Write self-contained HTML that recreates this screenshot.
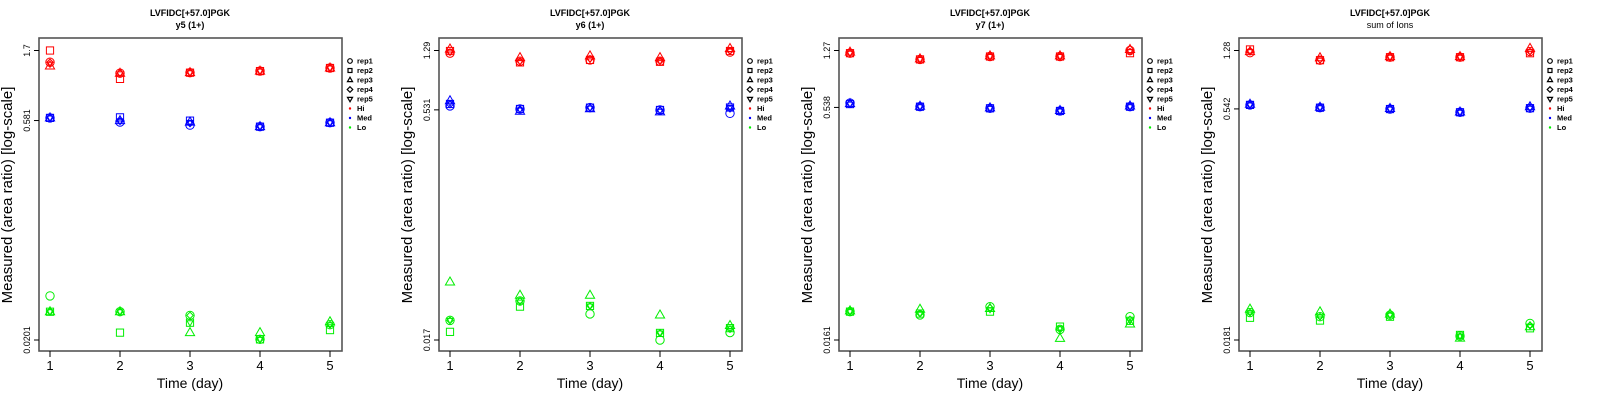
<!DOCTYPE html>
<html><head><meta charset="utf-8"><style>
html,body{margin:0;padding:0;background:#fff;}
svg{display:block;font-family:"Liberation Sans",sans-serif;}
</style></head><body>
<svg id="chart" width="1600" height="400" viewBox="0 0 1600 400" xmlns="http://www.w3.org/2000/svg"></svg>
<script>
const days = [1, 2, 3, 4, 5];
const repNames = ["rep1", "rep2", "rep3", "rep4", "rep5"];
const groupNames = ["Hi", "Med", "Lo"];
const subtitles = ["y5 (1+)", "y6 (1+)", "y7 (1+)", "sum of Ions"];
const yTickLabels = [["1.7","0.581","0.0201"],["1.29","0.531","0.017"],["1.27","0.538","0.0161"],["1.28","0.542","0.0181"]];
const yTickValues = [[1.7,0.581,0.0201],[1.29,0.531,0.017],[1.27,0.538,0.0161],[1.28,0.542,0.0181]];

// panel 1 (y5) : [rep][day]
const p1Hi = [[1.42,1.20,1.21,1.24,1.30],[1.70,1.10,1.21,1.24,1.30],[1.34,1.20,1.21,1.24,1.30],[1.42,1.20,1.21,1.24,1.30],[1.38,1.19,1.21,1.24,1.30]];
const p1Med = [[0.605,0.568,0.542,0.529,0.562],[0.605,0.610,0.580,0.529,0.562],[0.605,0.580,0.567,0.529,0.562],[0.605,0.575,0.555,0.529,0.562],[0.605,0.575,0.565,0.529,0.562]];
const p1Lo = [[0.0395,0.031,0.0293,0.0203,0.0254],[0.031,0.0225,0.0262,0.0203,0.0234],[0.031,0.031,0.0225,0.0225,0.0266],[0.031,0.031,0.0293,0.0203,0.0254],[0.031,0.031,0.0262,0.0203,0.0254]];
// panel 2 (y6)
const p2Hi = [[1.24,1.10,1.12,1.10,1.26],[1.28,1.08,1.12,1.09,1.28],[1.32,1.16,1.19,1.16,1.33],[1.26,1.10,1.14,1.10,1.28],[1.26,1.09,1.13,1.10,1.28]];
const p2Med = [[0.563,0.538,0.549,0.530,0.504],[0.580,0.538,0.549,0.530,0.550],[0.609,0.520,0.540,0.515,0.563],[0.575,0.538,0.549,0.530,0.540],[0.590,0.530,0.545,0.520,0.550]];
const p2Lo = [[0.0228,0.0305,0.0251,0.0170,0.0190],[0.0192,0.0280,0.0283,0.0189,0.0203],[0.0405,0.0332,0.0332,0.0247,0.0211],[0.0228,0.0305,0.0283,0.0189,0.0200],[0.0228,0.0300,0.0283,0.0189,0.0203]];
// panel 3 (y7)
const p3Hi = [[1.22,1.11,1.16,1.16,1.27],[1.22,1.11,1.16,1.16,1.22],[1.24,1.12,1.17,1.17,1.29],[1.22,1.11,1.16,1.16,1.25],[1.22,1.11,1.16,1.16,1.25]];
const p3Med = [[0.575,0.544,0.531,0.510,0.544],[0.566,0.544,0.531,0.510,0.544],[0.570,0.548,0.534,0.514,0.550],[0.570,0.544,0.531,0.510,0.544],[0.566,0.544,0.531,0.510,0.544]];
const p3Lo = [[0.0247,0.0235,0.0266,0.0189,0.0229],[0.0247,0.0240,0.0247,0.0197,0.0215],[0.0250,0.0256,0.0259,0.0165,0.0205],[0.0247,0.0240,0.0262,0.0189,0.0220],[0.0247,0.0240,0.0255,0.0192,0.0215]];
// panel 4 (sum of ions)
const p4Hi = [[1.24,1.11,1.16,1.16,1.26],[1.30,1.11,1.16,1.16,1.23],[1.26,1.15,1.17,1.17,1.32],[1.26,1.12,1.16,1.16,1.26],[1.26,1.11,1.16,1.16,1.26]];
const p4Med = [[0.575,0.552,0.541,0.516,0.548],[0.575,0.552,0.541,0.516,0.548],[0.580,0.555,0.545,0.518,0.560],[0.575,0.552,0.541,0.516,0.548],[0.575,0.552,0.541,0.516,0.548]];
const p4Lo = [[0.0271,0.0255,0.0261,0.0192,0.0231],[0.0251,0.0241,0.0255,0.0195,0.0215],[0.0285,0.0274,0.0265,0.0186,0.0220],[0.0271,0.0255,0.0261,0.0192,0.0225],[0.0271,0.0255,0.0261,0.0192,0.0222]];

const panelData = [[p1Hi,p1Med,p1Lo],[p2Hi,p2Med,p2Lo],[p3Hi,p3Med,p3Lo],[p4Hi,p4Med,p4Lo]];
const groupColors = ["#ff0000", "#0000ff", "#00ee00"];

const NS = "http://www.w3.org/2000/svg";
const svg = document.getElementById("chart");
function mk(tag, attrs, parent) {
  const e = document.createElementNS(NS, tag);
  for (const k in attrs) e.setAttribute(k, attrs[k]);
  parent.appendChild(e);
  return e;
}
const BOX = {x0: 39, x1: 342, y0: 38, y1: 351};
const YT = 50.5, YB = 340;

function drawMarker(g, shape, cx, cy, color, small) {
  let m;
  const s = small ? 0.65 : 1;
  if (shape === 0) m = mk("circle", {cx: cx, cy: cy, r: 4.2, fill: "none", stroke: color, "stroke-width": 1}, g);
  else if (shape === 1) m = mk("rect", {x: cx - 3.6, y: cy - 3.6, width: 7.2, height: 7.2, fill: "none", stroke: color, "stroke-width": 1}, g);
  else if (shape === 2) m = mk("polygon", {points: `${cx},${cy-5} ${cx-4.6},${cy+3} ${cx+4.6},${cy+3}`, fill: "none", stroke: color, "stroke-width": 1}, g);
  else if (shape === 3) m = mk("polygon", {points: `${cx},${cy-5*s} ${cx+5*s},${cy} ${cx},${cy+5*s} ${cx-5*s},${cy}`, fill: "none", stroke: color, "stroke-width": 1}, g);
  else m = mk("polygon", {points: `${cx},${cy+5*s} ${cx-4.6*s},${cy-3*s} ${cx+4.6*s},${cy-3*s}`, fill: "none", stroke: color, "stroke-width": 1}, g);
  return m;
}

for (let p = 0; p < 4; p++) {
  const ox = p * 400;
  const g = mk("g", {transform: `translate(${ox},0)`}, svg);
  
  
  const top = yTickValues[p][0], bot = yTickValues[p][2];
  const yScale = v => YT + (Math.log10(top) - Math.log10(v)) / (Math.log10(top) - Math.log10(bot)) * (YB - YT);
  const xScale = d => 50 + (d - 1) * 70;

  const t1 = mk("text", {x: 190, y: 16, "text-anchor": "middle", "font-size": 9, "font-weight": "bold"}, g);
  t1.textContent = "LVFIDC[+57.0]PGK";
  
  
  const t2 = mk("text", {x: 190, y: 28, "text-anchor": "middle", "font-size": 9, "font-weight": p === 3 ? "normal" : "bold"}, g);
  t2.textContent = subtitles[p];
  
  

  const box = mk("rect", {x: BOX.x0, y: BOX.y0, width: BOX.x1 - BOX.x0, height: BOX.y1 - BOX.y0, fill: "none", stroke: "#555", "stroke-width": 1.6}, g);
  
  

  days.forEach(d => {
    const x = xScale(d);
    const tk = mk("line", {x1: x, x2: x, y1: BOX.y1, y2: BOX.y1 + 6, stroke: "#000", "stroke-width": 1}, g);
    
    
    const tl = mk("text", {x: x, y: 370, "text-anchor": "middle", "font-size": 13}, g);
    tl.textContent = String(d);
    
    
  });
  const xt = mk("text", {x: 190, y: 388, "text-anchor": "middle", "font-size": 14}, g);
  xt.textContent = "Time (day)";
  
  

  yTickValues[p].forEach((v, i) => {
    const y = yScale(v);
    const tk = mk("line", {x1: BOX.x0 - 5, x2: BOX.x0, y1: y, y2: y, stroke: "#000", "stroke-width": 1}, g);
    
    
    const tl = mk("text", {x: 0, y: 0, "text-anchor": "middle", "font-size": 9, transform: `translate(30,${y}) rotate(-90)`}, g);
    tl.textContent = yTickLabels[p][i];
    
    
  });
  const yt = mk("text", {x: 0, y: 0, "text-anchor": "middle", "font-size": 15, transform: "translate(12,195) rotate(-90)"}, g);
  yt.textContent = "Measured (area ratio) [log-scale]";
  
  

  panelData[p].forEach((grp, gi) => {
    grp.forEach((series, ri) => {
      series.forEach((v, di) => {
        const m = drawMarker(g, ri, xScale(days[di]), yScale(v), groupColors[gi], true);
        
        
      });
    });
  });

  const lg = mk("g", {}, g);
  
  
  const labels = repNames.concat(groupNames);
  labels.forEach((lab, i) => {
    const y = 61 + i * 9.5;
    if (i < 5) {
      const s = mk("g", {transform: `translate(350,${y}) scale(0.55) translate(-350,${-y})`}, lg);
      drawMarker(s, i, 350, y, "#000", false).setAttribute("stroke-width", 2.2);
    } else {
      mk("circle", {cx: 350, cy: y, r: 1.2, fill: groupColors[i - 5]}, lg);
    }
    const t = mk("text", {x: 357, y: y + 2.6, "font-size": 7.5, "font-weight": "bold"}, lg);
    t.textContent = lab;
    
    
  });
}
</script>
</body></html>
